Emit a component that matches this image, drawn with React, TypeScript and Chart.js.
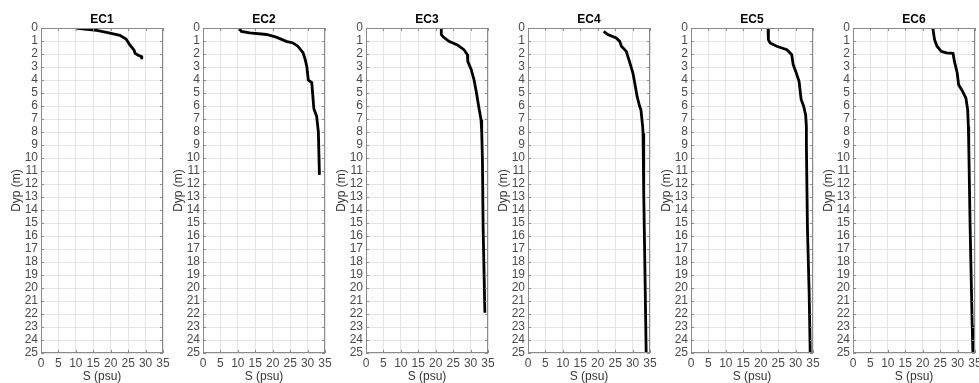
import React, { useEffect, useRef } from 'react';
import { Chart, registerables } from 'chart.js';

Chart.register(...registerables);

// ---- Data ----
const stationNames = ['EC1', 'EC2', 'EC3', 'EC4', 'EC5', 'EC6'];

const ec1Depth = [0, 0.08, 0.18, 0.4, 0.57, 0.85, 1.3, 1.7, 1.95, 2.1, 2.2, 2.4];
const ec1Salinity = [10.0, 12.5, 16.0, 19.8, 22.6, 24.4, 25.5, 26.7, 27.0, 27.9, 28.9, 28.9];

const ec2Depth = [0, 0.26, 0.38, 0.5, 0.7, 1.03, 1.15, 1.4, 1.9, 2.4, 3.0, 4.0, 4.2, 6.2, 6.8, 8.0, 11.3];
const ec2Salinity = [10.3, 11.0, 13.4, 18.2, 21.0, 23.9, 25.8, 27.2, 28.7, 29.3, 29.8, 30.2, 31.2, 31.8, 32.6, 33.1, 33.4];

const ec3Depth = [0, 0.5, 0.7, 1.03, 1.3, 1.67, 2.05, 2.57, 3.2, 4.0, 5.0, 6.15, 7.05, 8.0, 10.1, 15.3, 21.9];
const ec3Salinity = [21.6, 21.6, 22.2, 23.8, 26.2, 28.1, 29.1, 29.2, 30.2, 31.0, 31.7, 32.4, 33.0, 33.2, 33.4, 33.6, 34.1];

const ec4Depth = [0.26, 0.5, 0.77, 1.03, 1.4, 1.8, 2.57, 3.46, 4.2, 5.26, 6.0, 6.3, 7.6, 8.1, 12.7, 17.8, 25];
const ec4Salinity = [21.7, 22.9, 25.3, 26.3, 26.8, 28.2, 29.1, 30.1, 30.6, 31.3, 32.0, 32.4, 32.9, 33.0, 33.2, 33.5, 33.9];

const ec5Depth = [0, 0.9, 1.15, 1.4, 1.67, 2.05, 2.8, 3.46, 4.1, 5.5, 6.0, 6.7, 7.6, 8.85, 15.3, 20.4, 25];
const ec5Salinity = [22.1, 22.2, 22.7, 24.6, 27.5, 28.9, 29.3, 30.2, 31.0, 31.6, 32.3, 32.9, 33.1, 33.1, 33.4, 33.9, 34.2];

const ec6Depth = [0, 0.9, 1.4, 1.8, 1.92, 1.95, 2.57, 3.46, 4.36, 4.8, 5.4, 6.3, 7.6, 8.85, 15.3, 22.9, 25];
const ec6Salinity = [22.9, 23.4, 24.1, 25.3, 26.8, 28.7, 29.1, 29.9, 30.3, 31.3, 32.4, 32.9, 33.1, 33.2, 33.6, 34.2, 34.4];

const depths = [ec1Depth, ec2Depth, ec3Depth, ec4Depth, ec5Depth, ec6Depth];
const salinities = [ec1Salinity, ec2Salinity, ec3Salinity, ec4Salinity, ec5Salinity, ec6Salinity];

const xMin = 0;
const xMax = 35;
const xStep = 5;
const yMin = 0;
const yMax = 25;
const yStep = 1;
const xTitle = 'S (psu)';
const yTitle = 'Dyp (m)';

// ---- Layout / style ----
const PLOT_LEFTS = [41, 203, 366, 528, 691, 853];
const PLOT_W = 122;
const PLOT_TOP = 28;
const PLOT_BOTTOM = 353;
const LEFT_SPACE = 40;
const RIGHT_SPACE = 10;
const CANVAS_W = LEFT_SPACE + PLOT_W + RIGHT_SPACE;
const CANVAS_H = 383;
const FONT = '"Liberation Sans", Arial, Helvetica, sans-serif';
const GRID = '#e4e4e4';
const BORDER = '#8a8a8a';
const TICK_TEXT = '#4a4a4a';

function Panel({ index }: { index: number }) {
  const ref = useRef<HTMLCanvasElement | null>(null);
  useEffect(() => {
    if (!ref.current) return;
    const title = stationNames[index];
    const pts = salinities[index].map((s, i) => ({ x: s, y: depths[index][i] }));
    const framePlugin = {
      id: 'frame',
      afterDraw(chart: any) {
        const { ctx, chartArea: a, scales } = chart;
        ctx.save();
        ctx.strokeStyle = BORDER;
        ctx.lineWidth = 1;
        ctx.strokeRect(a.left + 0.5, a.top + 0.5, a.right - a.left - 1, a.bottom - a.top - 1);
        const tl = 3;
        ctx.beginPath();
        scales.x.ticks.forEach((t: any) => {
          const px = Math.round(scales.x.getPixelForValue(t.value)) + 0.5;
          ctx.moveTo(px, a.bottom);
          ctx.lineTo(px, a.bottom - tl);
          ctx.moveTo(px, a.top);
          ctx.lineTo(px, a.top + tl);
        });
        scales.y.ticks.forEach((t: any) => {
          const py = Math.round(scales.y.getPixelForValue(t.value)) + 0.5;
          ctx.moveTo(a.left, py);
          ctx.lineTo(a.left + tl, py);
          ctx.moveTo(a.right, py);
          ctx.lineTo(a.right - tl, py);
        });
        ctx.stroke();
        const cx = (a.left + a.right) / 2;
        ctx.textAlign = 'center';
        ctx.textBaseline = 'middle';
        ctx.fillStyle = '#000';
        ctx.font = `bold 12px ${FONT}`;
        ctx.fillText(title, cx, 20);
        ctx.fillStyle = '#333333';
        ctx.font = `12px ${FONT}`;
        ctx.fillText(xTitle, cx, 377);
        ctx.translate(a.left - 24, (a.top + a.bottom) / 2);
        ctx.rotate(-Math.PI / 2);
        ctx.fillText(yTitle, 0, 0);
        ctx.restore();
      },
    };
    const chart = new Chart(ref.current, {
      type: 'scatter',
      data: {
        datasets: [
          {
            data: pts,
            showLine: true,
            borderColor: '#000',
            backgroundColor: '#000',
            borderWidth: 2.8,
            pointRadius: 0,
            pointHoverRadius: 0,
            tension: 0,
          },
        ],
      },
      options: {
        responsive: false,
        animation: false,
        layout: { padding: { left: 10, right: RIGHT_SPACE, top: PLOT_TOP, bottom: 0 } },
        plugins: { legend: { display: false }, tooltip: { enabled: false }, title: { display: false } },
        scales: {
          x: {
            type: 'linear',
            min: xMin,
            max: xMax,
            ticks: { stepSize: xStep, autoSkip: false, maxRotation: 0, padding: 3, color: TICK_TEXT, font: { family: FONT, size: 12 } },
            grid: { color: GRID, drawTicks: false, lineWidth: 1 },
            border: { display: false },
            afterFit(scale: any) {
              scale.height = CANVAS_H - PLOT_BOTTOM;
            },
          },
          y: {
            type: 'linear',
            reverse: true,
            min: yMin,
            max: yMax,
            ticks: { stepSize: yStep, autoSkip: false, padding: 3, color: TICK_TEXT, font: { family: FONT, size: 12 } },
            grid: { color: GRID, drawTicks: false, lineWidth: 1 },
            border: { display: false },
            afterFit(scale: any) {
              scale.width = LEFT_SPACE - 10;
            },
          },
        },
      },
      plugins: [framePlugin],
    } as any);
    return () => chart.destroy();
  }, [index]);
  return (
    <div style={{ position: 'absolute', left: PLOT_LEFTS[index] - LEFT_SPACE, top: 0, width: CANVAS_W, height: CANVAS_H }}>
      <canvas ref={ref} width={CANVAS_W} height={CANVAS_H} style={{ width: CANVAS_W, height: CANVAS_H, display: 'block' }} />
    </div>
  );
}

export default function App() {
  return (
    <div style={{ position: 'absolute', left: 0, top: 0, width: 979, height: 383, background: '#fff', overflow: 'hidden' }}>
      {stationNames.map((_, i) => (
        <Panel key={i} index={i} />
      ))}
    </div>
  );
}
